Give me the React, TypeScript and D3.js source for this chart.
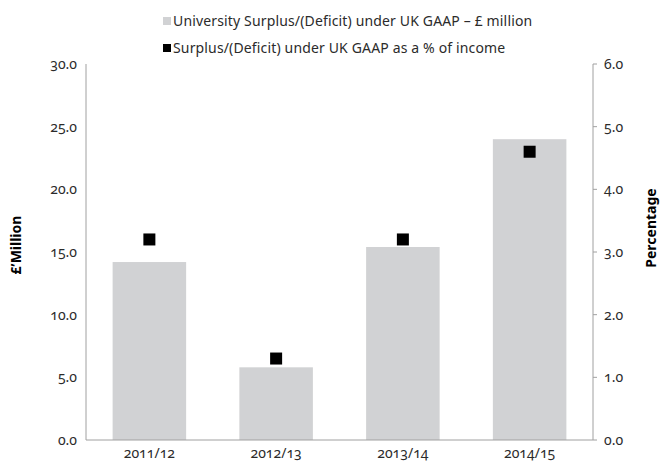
import React from "react";
import * as d3 from "d3";

const categories = ["2011/12", "2012/13", "2013/14", "2014/15"];
const surplusMillion = [14.2, 5.8, 15.4, 24.0];
const surplusPercent = [3.2, 1.3, 3.2, 4.6];
const leftTicks = [0, 5, 10, 15, 20, 25, 30];
const rightTicks = [0, 1, 2, 3, 4, 5, 6];
const legendLabels = [
  "University Surplus/(Deficit) under UK GAAP – £ million",
  "Surplus/(Deficit) under UK GAAP as a % of income",
];
const leftTitle = "£’Million";
const rightTitle = "Percentage";

const W = 662;
const H = 466;
const M = { left: 86, right: 593, top: 64, bottom: 440 };
const FONT = "'Noto Sans', 'Open Sans', sans-serif";
const BAR = "#d1d2d4";
const AXIS = "#a0a0a0";
const TEXT = "#2b2b2b";

export default function App() {
  const x = d3.scaleBand<string>().domain(categories).range([M.left, M.right]).paddingInner(0.42).paddingOuter(0.21);
  const yL = d3.scaleLinear().domain([0, 30]).range([M.bottom, M.top]);
  const yR = d3.scaleLinear().domain([0, 6]).range([M.bottom, M.top]);
  const sq = 12;
  const numStyle: React.CSSProperties = { fontVariantNumeric: "oldstyle-nums" };

  return (
    <svg width={W} height={H} style={{ position: "absolute", left: 0, top: 0, background: "#fff" }} fontFamily={FONT}>
      {/* legend */}
      {legendLabels.map((l, i) => (
        <g key={l} transform={`translate(163, ${i === 0 ? 17 : 44})`}>
          <rect width={8} height={8} fill={i === 0 ? BAR : "#000"} />
          <text x={10} y={4} dy="0.35em" fontSize={14} fill={TEXT} letterSpacing={0.15} style={numStyle}>
            {l}
          </text>
        </g>
      ))}

      {/* bars */}
      {categories.map((c, i) => (
        <rect key={c} x={x(c)} y={yL(surplusMillion[i])} width={x.bandwidth()} height={M.bottom - yL(surplusMillion[i])} fill={BAR} />
      ))}

      {/* squares */}
      {categories.map((c, i) => (
        <rect key={c + "p"} x={(x(c) as number) + x.bandwidth() / 2 - sq / 2} y={yR(surplusPercent[i]) - sq / 2} width={sq} height={sq} fill="#000" />
      ))}

      {/* axes lines */}
      <line x1={M.left} x2={M.left} y1={M.top} y2={M.bottom} stroke={AXIS} strokeWidth={1} />
      <line x1={M.right} x2={M.right} y1={M.top} y2={M.bottom} stroke={AXIS} strokeWidth={1} />
      <line x1={M.left} x2={M.right} y1={M.bottom} y2={M.bottom} stroke={AXIS} strokeWidth={1} />

      {/* left ticks */}
      {leftTicks.map((t) => (
        <text key={"l" + t} x={77} y={yL(t)} dy="0.35em" textAnchor="end" fontSize={14} fill={TEXT} style={numStyle}>
          {d3.format(".1f")(t)}
        </text>
      ))}

      {/* right ticks */}
      {rightTicks.map((t) => (
        <g key={"r" + t}>
          <line x1={M.right} x2={M.right + 4} y1={yR(t)} y2={yR(t)} stroke={AXIS} />
          <text x={604} y={yR(t)} dy="0.35em" textAnchor="start" fontSize={14} fill={TEXT} style={numStyle}>
            {d3.format(".1f")(t)}
          </text>
        </g>
      ))}

      {/* x labels */}
      {categories.map((c) => (
        <text key={"x" + c} x={(x(c) as number) + x.bandwidth() / 2} y={453} dy="0.35em" textAnchor="middle" fontSize={14} fill={TEXT} style={numStyle}>
          {c}
        </text>
      ))}

      {/* axis titles */}
      <text transform={`translate(16, 245) rotate(-90)`} textAnchor="middle" dy="0.35em" fontSize={14} fontWeight="bold" fill="#000">
        {leftTitle}
      </text>
      <text transform={`translate(651, 228) rotate(-90)`} textAnchor="middle" dy="0.35em" fontSize={14} fontWeight="bold" fill="#000">
        {rightTitle}
      </text>
    </svg>
  );
}
